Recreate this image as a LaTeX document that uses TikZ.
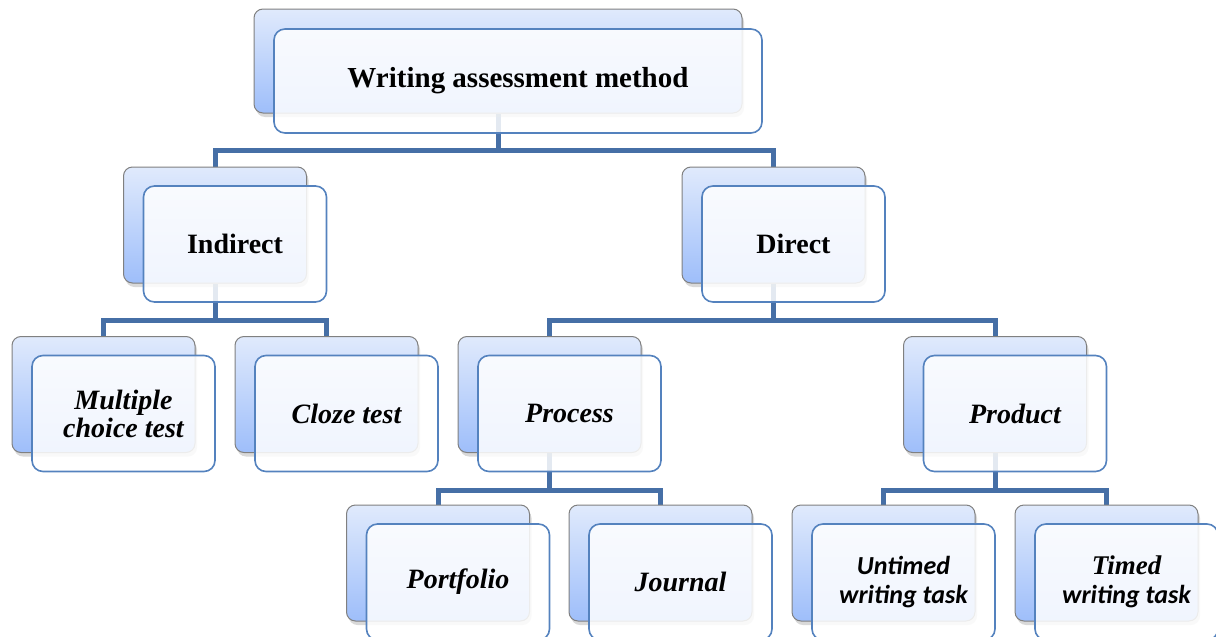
\documentclass[tikz,border=0pt]{standalone}
\usepackage{fontspec}
\setmainfont{Liberation Serif}
\newfontfamily\sansbody{Carlito}
\usetikzlibrary{shadows, backgrounds, positioning}

\definecolor{linkblue}{RGB}{70,111,166}
\definecolor{frameblue}{RGB}{84,130,190}
\definecolor{shadetop}{RGB}{224,234,252}
\definecolor{shadebot}{RGB}{158,190,250}
\definecolor{backframe}{RGB}{128,128,128}

\tikzset{
  backbox/.style={draw=backframe, line width=1pt, rounded corners=9pt,
    top color=shadetop, bottom color=shadebot,
    minimum width=183pt, minimum height=116pt,
    drop shadow={shadow xshift=2pt, shadow yshift=-4pt, opacity=0.3}},
  frontbox/.style={draw=frameblue, line width=1.6pt, rounded corners=11pt,
    fill=white, fill opacity=0.85, text opacity=1,
    minimum width=183pt, minimum height=116pt, align=center,
    font=\fontsize{28}{28}\selectfont\bfseries\itshape},
  headfont/.style={font=\fontsize{28}{30}\selectfont\bfseries},
  link/.style={draw=linkblue, line width=5pt}
}

\begin{document}
\begin{tikzpicture}[x=1pt, y=-1pt]
        \useasboundingbox (0,0) rectangle (1216,637);
        \clip (0,0) rectangle (1216,637);

        %Wurzel
        \node[backbox, minimum width=488pt, minimum height=104pt](wamb) at (498,61){};
        \node[frontbox, font=\fontsize{29}{30}\selectfont\bfseries, minimum width=488pt, minimum height=104pt](wam) at ([shift={(20,20)}]wamb){Writing assessment method};

        %Ebene 1
        \node[backbox](indb) at (215,225){};
        \node[frontbox, headfont](ind) at ([shift={(20,19)}]indb){Indirect};
        \node[backbox](dirb) at (773.5,225){};
        \node[frontbox, headfont](dir) at ([shift={(20,19)}]dirb){Direct};

        %Ebene 2
        \node[backbox](mctb) at (103.5,394.5){};
        \node[frontbox](mct) at ([shift={(20,19)}]mctb){Multiple\\choice test};
        \node[backbox](clzb) at (326.5,394.5){};
        \node[frontbox](clz) at ([shift={(20,19)}]clzb){Cloze test};
        \node[backbox](procb) at (549.5,394.5){};
        \node[frontbox](proc) at ([shift={(20,19)}]procb){Process};
        \node[backbox](prodb) at (995,394.5){};
        \node[frontbox](prod) at ([shift={(20,19)}]prodb){Product};

        %Ebene 3
        \node[backbox](portb) at (438,563){};
        \node[frontbox](port) at ([shift={(20,19)}]portb){Portfolio};
        \node[backbox](jourb) at (660.5,563){};
        \node[frontbox](jour) at ([shift={(20,19)}]jourb){Journal};
        \node[backbox](untb) at (883.5,563){};
        \node[frontbox, font=\fontsize{26}{29}\selectfont\sansbody\bfseries\itshape](unt) at ([shift={(20,19)}]untb){Untimed\\writing task};
        \node[backbox](timb) at (1106.5,563){};
        \node[frontbox, font=\fontsize{27}{29}\selectfont\bfseries\itshape](tim) at ([shift={(20,19)}]timb){Timed\\{\fontsize{26}{29}\selectfont\sansbody writing task}};

        %Verbindungen
        \begin{scope}[on background layer]
        \draw[link] (wamb.south) -- ++(0,37) -| (indb.north);
        \draw[link] (wamb.south) -- ++(0,37) -| (dirb.north);

        \draw[link] (indb.south) -- ++(0,37) -| (mctb.north);
        \draw[link] (indb.south) -- ++(0,37) -| (clzb.north);
        \draw[link] (dirb.south) -- ++(0,37) -| (procb.north);
        \draw[link] (dirb.south) -- ++(0,37) -| (prodb.north);

        \draw[link] (procb.south) -- ++(0,37) -| (portb.north);
        \draw[link] (procb.south) -- ++(0,37) -| (jourb.north);
        \draw[link] (prodb.south) -- ++(0,37) -| (untb.north);
        \draw[link] (prodb.south) -- ++(0,37) -| (timb.north);
        \end{scope}

    \end{tikzpicture}
\end{document}
